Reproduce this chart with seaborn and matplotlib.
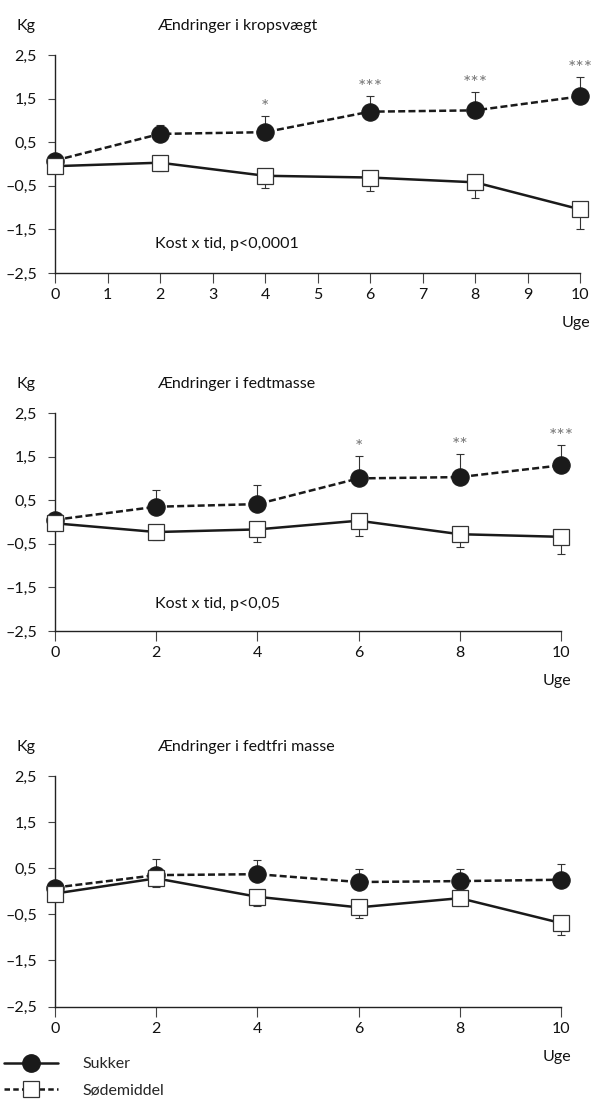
import numpy as np
import pandas as pd
import matplotlib.pyplot as plt
from matplotlib.lines import Line2D
import seaborn as sns

# data (kg change, one-sided SEM)
weeks = [0, 2, 4, 6, 8, 10]

kv_sukker = [0.08, 0.69, 0.73, 1.20, 1.23, 1.55]
kv_sukker_sem = [0, 0.21, 0.37, 0.37, 0.42, 0.44]
kv_sod = [-0.05, 0.03, -0.27, -0.31, -0.42, -1.04]
kv_sod_sem = [0, 0.20, 0.27, 0.30, 0.36, 0.44]
kv_stars = ["", "", "*", "***", "***", "***"]

fm_sukker = [0.05, 0.35, 0.41, 1.00, 1.03, 1.30]
fm_sukker_sem = [0, 0.39, 0.45, 0.52, 0.53, 0.46]
fm_sod = [-0.03, -0.23, -0.17, 0.03, -0.28, -0.34]
fm_sod_sem = [0, 0.18, 0.28, 0.35, 0.29, 0.39]
fm_stars = ["", "", "", "*", "**", "***"]

ffm_sukker = [0.08, 0.35, 0.37, 0.20, 0.22, 0.25]
ffm_sukker_sem = [0, 0.36, 0.31, 0.29, 0.26, 0.34]
ffm_sod = [-0.05, 0.28, -0.12, -0.35, -0.15, -0.69]
ffm_sod_sem = [0, 0.19, 0.21, 0.23, 0.18, 0.26]
ffm_stars = ["", "", "", "", "", ""]

titles = ["Ændringer i kropsvægt", "Ændringer i fedtmasse", "Ændringer i fedtfri masse"]
notes = ["Kost x tid, p<0,0001", "Kost x tid, p<0,05", ""]
yticks = [-2.5, -1.5, -0.5, 0.5, 1.5, 2.5]
ytick_labels = ["–2,5", "–1,5", "–0,5", "0,5", "1,5", "2,5"]

sns.set_style("ticks")
plt.rcParams['font.family'] = ['Lato', 'DejaVu Sans']

W, H = 591, 1113
fig = plt.figure(figsize=(W / 100, H / 100), dpi=100)


def px_rect(l, r, t, b):
    return [l / W, 1 - b / H, (r - l) / W, (b - t) / H]


# left, right, top, bottom in pixels
boxes = [(55, 580, 55, 273), (55, 561, 413, 631), (55, 561, 776, 1006.5)]
panels = [
    (kv_sukker, kv_sukker_sem, kv_sod, kv_sod_sem, kv_stars),
    (fm_sukker, fm_sukker_sem, fm_sod, fm_sod_sem, fm_stars),
    (ffm_sukker, ffm_sukker_sem, ffm_sod, ffm_sod_sem, ffm_stars),
]
note_pos = [(1.9, -1.83), (1.97, -1.88)]

for i, (box, (suk, suk_sem, sod, sod_sem, stars)) in enumerate(zip(boxes, panels)):
    ax = fig.add_axes(px_rect(*box))
    df = pd.DataFrame({"uge": weeks, "sukker": suk, "sod": sod})

    # error bars, one-sided
    ax.errorbar(weeks, suk, yerr=[np.zeros(6), suk_sem], fmt="none",
                ecolor="#333333", elinewidth=0.8, capsize=3, capthick=0.8,
                zorder=2, clip_on=False)
    ax.errorbar(weeks, sod, yerr=[sod_sem, np.zeros(6)], fmt="none",
                ecolor="#333333", elinewidth=0.8, capsize=3, capthick=0.8,
                zorder=2, clip_on=False)

    sns.lineplot(data=df, x="uge", y="sukker", ax=ax, color="#1a1a1a",
                 linewidth=1.8, linestyle=(0, (2.8, 1.3)), marker="o",
                 markersize=12.5, markerfacecolor="#1a1a1a",
                 markeredgecolor="#1a1a1a", markeredgewidth=0.8,
                 zorder=3, clip_on=False)
    sns.lineplot(data=df, x="uge", y="sod", ax=ax, color="#1a1a1a",
                 linewidth=1.8, marker="s", markersize=11.5,
                 markerfacecolor="white", markeredgecolor="#333333",
                 markeredgewidth=0.9, zorder=4, clip_on=False)

    for w, m, s, st in zip(weeks, suk, suk_sem, stars):
        if st:
            ax.annotate(st, (w, m + s), xytext=(0, 2), textcoords="offset points",
                        ha="center", va="baseline", fontsize=14, color="#777777",
                        annotation_clip=False)

    ax.set_xlim(0, 10)
    ax.set_ylim(-2.5, 2.5)
    if i == 0:
        ax.set_xticks(range(11))
    else:
        ax.set_xticks(weeks)
    ax.set_yticks(yticks)
    ax.set_yticklabels(ytick_labels)
    ax.set_xlabel("")
    ax.set_ylabel("")
    sns.despine(ax=ax)
    for sp in ["left", "bottom"]:
        ax.spines[sp].set_linewidth(1.0)
        ax.spines[sp].set_color("#222222")
    ax.tick_params(axis="y", length=5, width=0.8, color="#444444", pad=8,
                   labelsize=11.5, labelcolor="#111111")
    ax.tick_params(axis="x", length=7, width=0.8, color="#444444", pad=4,
                   labelsize=11.5, labelcolor="#111111")

    if notes[i]:
        ax.text(note_pos[i][0], note_pos[i][1], notes[i], fontsize=11.5,
                ha="left", va="center", color="#111111")

    l, r, t, b = box
    fig.text(17 / W, 1 - (t - 29) / H, "Kg", fontsize=11.5, ha="left", va="center",
             color="#111111")
    fig.text(157 / W, 1 - (t - 29) / H, titles[i], fontsize=11.5, ha="left",
             va="center", color="#111111")
    fig.text((r + 10) / W, 1 - (b + 50) / H, "Uge", fontsize=11.5, ha="right",
             va="center", color="#111111")

# legend (as printed in the original)
handles = [
    Line2D([], [], color="#1a1a1a", linewidth=1.8, marker="o", markersize=12.5,
           markerfacecolor="#1a1a1a", markeredgecolor="#1a1a1a"),
    Line2D([], [], color="#1a1a1a", linewidth=1.8, linestyle=(0, (2.2, 1.3)),
           marker="s", markersize=11.5, markerfacecolor="white",
           markeredgecolor="#333333", markeredgewidth=0.9),
]
fig.legend(handles, ["Sukker", "Sødemiddel"], loc="upper left",
           bbox_to_anchor=(4 / W, 1 - 1057 / H), frameon=False, fontsize=11.5,
           handlelength=3.4, handletextpad=1.5, labelspacing=0.75,
           borderpad=0, borderaxespad=0)

fig.savefig("out.png", dpi=100)
